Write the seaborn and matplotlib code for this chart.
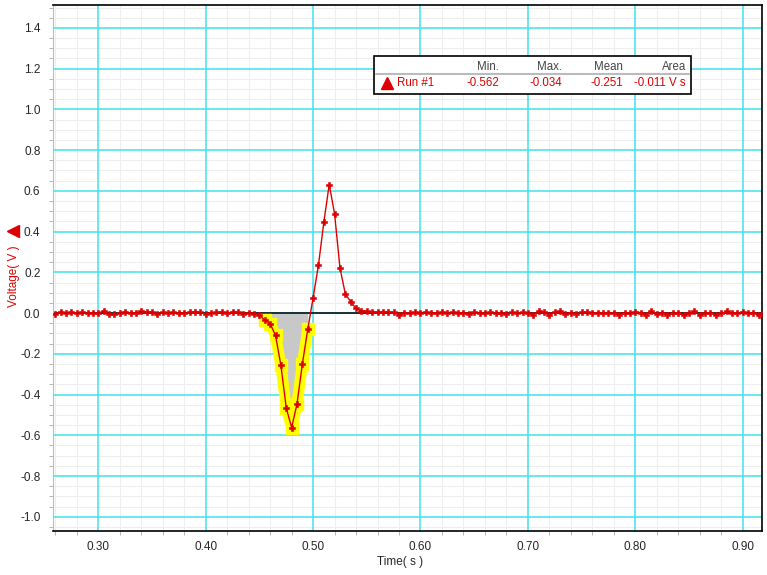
#!/usr/bin/env python
"""Voltage pulse run with a selected region and its statistics box."""
import matplotlib

matplotlib.use("Agg")
import matplotlib.pyplot as plt
import numpy as np
import pandas as pd
import seaborn as sns
from matplotlib.lines import Line2D
from matplotlib.patches import Rectangle
from matplotlib.ticker import FormatStrFormatter, MultipleLocator

W, H = 767, 575

# sampled run: start time and sample step (s)
SAMPLE_START = 0.26
SAMPLE_STEP = 0.005

baseline_before = [-0.005, 0.006, -0.002, 0.005, -0.002, 0.003, 0.0, 0.0, 0.0, 0.010,
                   -0.006, -0.006, 0.0, 0.005, 0.0, -0.002, 0.010, 0.005, 0.005, -0.005,
                   0.003, 0.0, 0.003, 0.0, 0.0, 0.003, 0.005, 0.003, -0.005, 0.0,
                   0.003, 0.006, 0.0, 0.005, 0.003, -0.006, 0.0, -0.005, -0.010]
dip = [-0.034, -0.052, -0.110, -0.256, -0.466, -0.562, -0.446, -0.250, -0.080]
peak = [0.075, 0.236, 0.446, 0.631, 0.487, 0.222, 0.094, 0.056, 0.023, 0.011, 0.008]
baseline_mid = [0.006, 0.005, 0.004, 0.004, 0.003, -0.008, 0.0, 0.002, 0.003, 0.002,
                0.003, 0.002, 0.0, 0.003, 0.002, 0.003, 0.0, 0.002, -0.003, 0.003,
                0.002, -0.002, 0.003, 0.0, 0.002, -0.004, 0.003, 0.0, 0.003, 0.0]
baseline_after = [-0.008, 0.008, 0.003, -0.008, 0.003, 0.008, -0.005, 0.002, -0.005, 0.003,
                  0.003, 0.002, 0.002, 0.002, 0.002, 0.002, -0.008, -0.002, -0.002, 0.006,
                  0.002, -0.008, 0.008, -0.005, 0.002, -0.008, -0.002, -0.002, -0.008, -0.002,
                  0.008, -0.008, -0.002, 0.002, -0.008, -0.002, 0.008, 0.002, -0.002, 0.005,
                  -0.002, 0.002, -0.008, 0.003]

voltage = baseline_before + dip + peak + baseline_mid + baseline_after
time = SAMPLE_START + SAMPLE_STEP * np.arange(len(voltage))

# selected region = the dip
sel_start = len(baseline_before)
sel_stop = sel_start + len(dip)

stats_header = ["Min.", "Max.", "Mean", "Area"]
stats_values = ["-0.562", "-0.034", "-0.251", "-0.011 V s"]
run_name = "Run #1"

RED = "#DD0000"
CYAN = "#40E2EE"
MINOR = "#EEEEEE"


def fx(px):
    return px / W


def fy(py):
    return 1 - py / H


def main():
    sns.set_style("white")
    plt.rcParams["font.family"] = ["Liberation Sans", "DejaVu Sans"]

    df = pd.DataFrame({"time": time, "voltage": voltage})
    sel = df.iloc[sel_start:sel_stop]

    fig = plt.figure(figsize=(W / 100, H / 100), dpi=100)
    ax = fig.add_axes([fx(53), fy(531), fx(762) - fx(53), (531 - 5.3) / H])

    ax.set_xlim(0.2578, 0.918)
    ax.set_ylim(-1.07, 1.511)
    ax.xaxis.set_major_locator(MultipleLocator(0.1))
    ax.xaxis.set_minor_locator(MultipleLocator(0.02))
    ax.yaxis.set_major_locator(MultipleLocator(0.2))
    ax.yaxis.set_minor_locator(MultipleLocator(0.05))
    ax.xaxis.set_major_formatter(FormatStrFormatter("%.2f"))
    ax.yaxis.set_major_formatter(FormatStrFormatter("%.1f"))

    # minor grid drawn by hand so it stays under the cyan major grid
    ax.set_axisbelow(True)
    ax.grid(which="major", color=CYAN, lw=1.1)
    ax.vlines(ax.xaxis.get_minorticklocs(), -1.07, 1.511, color=MINOR, lw=0.75, zorder=0.1)
    ax.hlines(ax.yaxis.get_minorticklocs(), 0.2578, 0.918, color=MINOR, lw=0.75, zorder=0.1)

    ax.fill_between(sel["time"], sel["voltage"], 0, color="#C8C8C8", lw=0, zorder=2)
    ax.axhline(0, color="black", lw=1.1, zorder=2.5)
    ax.plot(sel["time"], sel["voltage"], color="#FFFF00", lw=8, marker="s", ms=8,
            solid_capstyle="butt", zorder=3)

    sns.lineplot(data=df, x="time", y="voltage", ax=ax, color=RED, lw=1, estimator=None,
                 marker="P", markersize=5, markerfacecolor=RED, markeredgecolor=RED,
                 markeredgewidth=0.4, zorder=5)
    ax.set_xlabel("")
    ax.set_ylabel("")

    for side in ["top", "right", "bottom"]:
        ax.spines[side].set_color("black")
        ax.spines[side].set_linewidth(1.2)
    ax.spines["left"].set_color("#BBBBBB")
    ax.tick_params(axis="y", which="major", length=4, color="#AAAAAA", labelsize=8.5, pad=5)
    ax.tick_params(axis="y", which="minor", left=True, length=3, color="#AAAAAA")
    ax.tick_params(axis="x", which="major", length=4, color="#AAAAAA", labelsize=8.5, pad=3)
    ax.tick_params(axis="x", which="minor", bottom=True, length=3, color="#AAAAAA")

    # axis titles
    fig.text(fx(400), fy(562), "Time( s )", fontsize=8.5, ha="center", va="center")
    fig.text(fx(14), fy(276), "Voltage( V )", fontsize=8.5, color=RED, rotation=90,
             ha="center", va="center")
    fig.add_artist(Line2D([fx(13)], [fy(231)], marker="<", ms=8, color=RED, lw=0,
                          transform=fig.transFigure))

    # statistics box
    fig.add_artist(Rectangle((fx(374), fy(94)), fx(691) - fx(374), (94 - 56) / H,
                             transform=fig.transFigure, facecolor="white",
                             edgecolor="black", lw=1.2, zorder=10))
    fig.add_artist(Line2D([fx(376), fx(689)], [fy(73.5), fy(73.5)], color="#BBBBBB", lw=1.5,
                          transform=fig.transFigure, zorder=11))
    col_right = [499, 562, 623, 686]
    for xr, head, val in zip(col_right, stats_header, stats_values):
        fig.text(fx(xr), fy(66.5), head, fontsize=8.3, color="#444444", ha="right",
                 va="center", zorder=12)
        fig.text(fx(xr), fy(83.5), val, fontsize=8.3, color=RED, ha="right",
                 va="center", zorder=12)
    fig.add_artist(Line2D([fx(387)], [fy(83)], marker="^", ms=9, color=RED, lw=0,
                          transform=fig.transFigure, zorder=12))
    fig.text(fx(397), fy(83.5), run_name, fontsize=8.3, color=RED, ha="left",
             va="center", zorder=12)

    fig.savefig("out.png", dpi=100)


if __name__ == "__main__":
    main()
